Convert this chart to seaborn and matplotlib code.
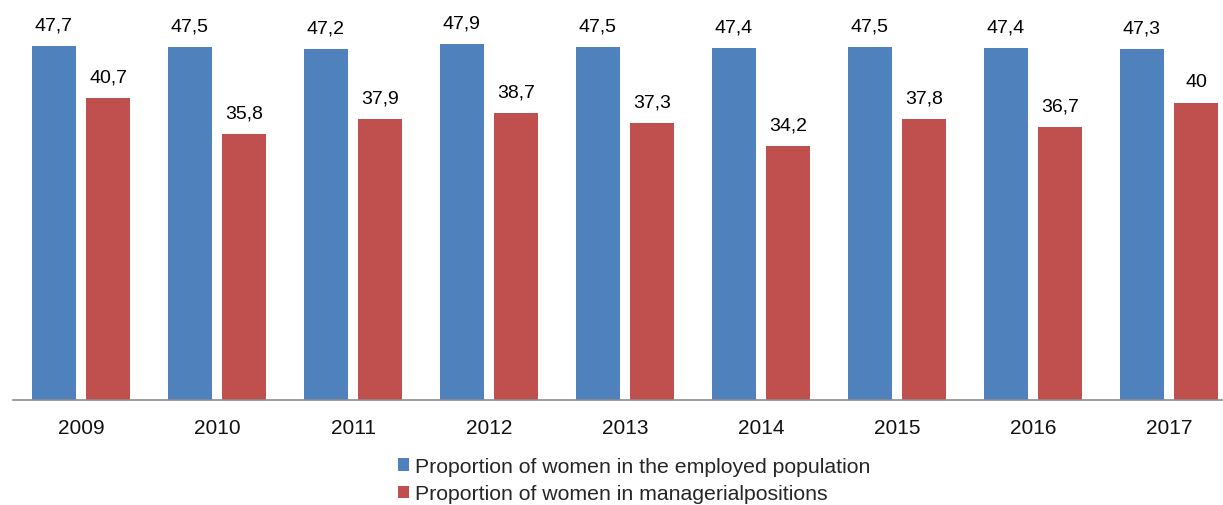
import matplotlib
matplotlib.use("Agg")
import matplotlib.pyplot as plt
import seaborn as sns
import pandas as pd

years = ["2009", "2010", "2011", "2012", "2013", "2014", "2015", "2016", "2017"]
employed = [47.7, 47.5, 47.2, 47.9, 47.5, 47.4, 47.5, 47.4, 47.3]
managerial = [40.7, 35.8, 37.9, 38.7, 37.3, 34.2, 37.8, 36.7, 40.0]
series_names = ["Proportion of women in the employed population",
                "Proportion of women in managerialpositions"]
colors = ["#4F81BD", "#C0504D"]

df = pd.DataFrame({
    "year": years * 2,
    "value": employed + managerial,
    "series": [series_names[0]] * len(years) + [series_names[1]] * len(years),
})

sns.set_theme(style="white")
plt.rcParams["font.family"] = ["Liberation Sans", "DejaVu Sans"]

fig = plt.figure(figsize=(12.23, 5.06), dpi=100)
ax = fig.add_axes([13 / 1223, 105 / 506, 1 - 13 / 1223, 1 - 105 / 506])

sns.barplot(data=df, x="year", y="value", hue="series", order=years,
            hue_order=series_names, palette=colors, width=0.8, gap=0.19,
            saturation=1, ax=ax, legend=True, linewidth=0, edgecolor="none")

def fmt(v):
    s = f"{v:.1f}".replace(".", ",")
    return s[:-2] if s.endswith(",0") else s

for cont, vals in zip(ax.containers, [employed, managerial]):
    ax.bar_label(cont, labels=[fmt(v) for v in vals], padding=9,
                 fontsize=14, family=["Liberation Sans Narrow", "Liberation Sans", "DejaVu Sans"],
                 color="#000000")

ax.set_ylim(0, 54)
ax.set_xlim(-0.5, 8.397)
ax.set_xlabel("")
ax.set_ylabel("")
ax.set_yticks([])
for s in ["top", "left", "right"]:
    ax.spines[s].set_visible(False)
ax.spines["bottom"].set_color("#8c8c8c")
ax.spines["bottom"].set_linewidth(1.2)
ax.tick_params(axis="x", length=0, pad=13, labelsize=15, labelcolor="#111111")

handles, labels = ax.get_legend_handles_labels()
ax.get_legend().remove()
fig.legend(handles, labels, loc="upper left", bbox_to_anchor=(398 / 1223, 1 - 458 / 506),
           frameon=False, fontsize=15.3, handlelength=0.5, handleheight=0.5,
           handletextpad=0.3, labelspacing=0.4, borderpad=0, borderaxespad=0)

fig.savefig("out.png", dpi=100)
